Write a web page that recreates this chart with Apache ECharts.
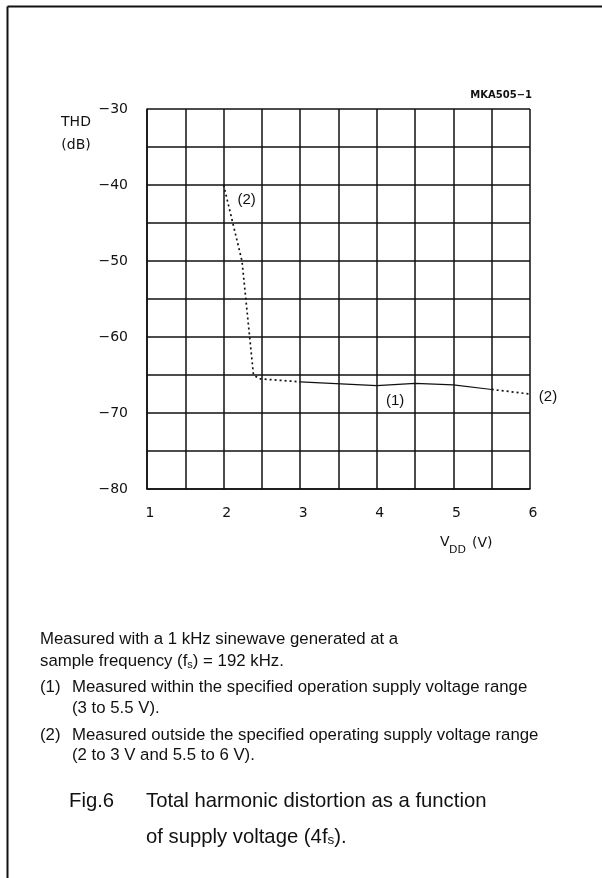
<!DOCTYPE html>
<html>
<head>
<meta charset="utf-8">
<script src="https://cdn.jsdelivr.net/npm/echarts@6/dist/echarts.min.js"></script>
<style>
  html, body { margin: 0; padding: 0; background: #fff; }
  #chart { width: 602px; height: 878px; }
</style>
</head>
<body>
<div id="chart"></div>
<script>
// Supply voltage (V) and THD (dB).
// Below 3 V: outside the specified range (dotted).
const vddLow = [2, 2.12, 2.24, 2.29, 2.34, 2.39, 2.47, 2.6, 3];
const thdLow = [-40, -45, -50, -55, -60, -65, -65.5, -65.6, -65.9];
// 3 V to 5.5 V: specified operating range (solid).
const vddMid = [3, 4, 4.5, 5, 5.5];
const thdMid = [-65.9, -66.4, -66.1, -66.3, -66.9];
// Above 5.5 V: outside the specified range (dotted).
const vddHigh = [5.5, 6];
const thdHigh = [-66.9, -67.5];

// Axis ticks
const xTickValues = [1, 2, 3, 4, 5, 6];
const yTickValues = [-30, -40, -50, -60, -70, -80];

// Curve annotations: text and anchor in data units
const curveNotes = [
  { text: '(2)', v: 2.30, db: -42.0 },
  { text: '(1)', v: 4.24, db: -68.4 },
  { text: '(2)', v: 6.235, db: -67.9 }
];

const INK = '#111';
const AXIS_FONT = 'DejaVu Sans';
const TEXT_FONT = 'Liberation Sans, Arial, sans-serif';

function pairs(xs, ys) { return xs.map((x, i) => [x, ys[i]]); }

const chart = echarts.init(document.getElementById('chart'), null, { renderer: 'canvas' });

const dotted = { color: INK, width: 1.7, type: [2, 3] };
const solid = { color: INK, width: 1.1, type: 'solid' };

chart.setOption({
  backgroundColor: '#fff',
  animation: false,
  grid: { left: 147, top: 109, width: 383, height: 380, containLabel: false },
  xAxis: {
    type: 'value', min: 1, max: 6, interval: 0.5,
    axisLine: { show: true, lineStyle: { color: INK, width: 1.5 } },
    axisTick: { show: false },
    splitLine: { show: true, lineStyle: { color: INK, width: 1.5 } },
    axisLabel: {
      margin: 17, fontFamily: AXIS_FONT, fontSize: 14, color: INK,
      padding: [0, 0, 0, 6],
      formatter: v => xTickValues.indexOf(v) >= 0 ? String(v) : ''
    }
  },
  yAxis: {
    type: 'value', min: -80, max: -30, interval: 5,
    axisLine: { show: true, lineStyle: { color: INK, width: 1.5 } },
    axisTick: { show: false },
    splitLine: { show: true, lineStyle: { color: INK, width: 1.5 } },
    axisLabel: {
      margin: 19, fontFamily: AXIS_FONT, fontSize: 14, color: INK,
      formatter: v => yTickValues.indexOf(v) >= 0 ? String(v).replace('-', '\u2212') : ''
    }
  },
  series: [
    { type: 'line', data: pairs(vddLow, thdLow), symbol: 'none', lineStyle: dotted, silent: true },
    { type: 'line', data: pairs(vddMid, thdMid), symbol: 'none', lineStyle: solid, silent: true },
    { type: 'line', data: pairs(vddHigh, thdHigh), symbol: 'none', lineStyle: dotted, silent: true }
  ]
});

// Text blocks around the diagram
const noteFont = 16.8;
const notes = { fontSize: noteFont, fontFamily: TEXT_FONT, fill: INK, verticalAlign: 'bottom', lineHeight: 20 };
const noteSub = { fontSize: 11, fontFamily: TEXT_FONT, fill: INK, verticalAlign: 'bottom', lineHeight: 14 };
const capFont = 20.3;
const cap = { fontSize: capFont, fontFamily: TEXT_FONT, fill: INK, verticalAlign: 'bottom', lineHeight: 24 };
const capSub = { fontSize: 13.5, fontFamily: TEXT_FONT, fill: INK, verticalAlign: 'bottom', lineHeight: 16 };

function txt(x, y, text, style) {
  return {
    type: 'text', x: x, y: y, silent: true,
    style: Object.assign({ text: text, fill: INK, align: 'left', verticalAlign: 'middle' }, style)
  };
}

const elements = [
  // frame
  { type: 'line', silent: true, shape: { x1: 7.5, y1: 6.5, x2: 602, y2: 6.5 }, style: { stroke: INK, lineWidth: 2 } },
  { type: 'line', silent: true, shape: { x1: 7.5, y1: 6.5, x2: 7.5, y2: 878 }, style: { stroke: INK, lineWidth: 2 } },
  // drawing code
  txt(532, 95, 'MKA505\u22121', { align: 'right', fontFamily: AXIS_FONT, fontSize: 10, fontWeight: 'bold' }),
  // y axis title
  txt(76, 122, 'THD', { align: 'center', fontFamily: AXIS_FONT, fontSize: 14 }),
  txt(76, 145, '(dB)', { align: 'center', fontFamily: AXIS_FONT, fontSize: 14 }),
  // x axis title
  txt(440, 542, 'V', { fontFamily: AXIS_FONT, fontSize: 14 }),
  txt(449, 550, 'DD', { fontFamily: AXIS_FONT, fontSize: 11 }),
  txt(472, 543, '(V)', { fontFamily: AXIS_FONT, fontSize: 14 }),
  // notes
  txt(40, 639.5, 'Measured with a 1 kHz sinewave generated at a', { fontFamily: TEXT_FONT, fontSize: noteFont }),
  {
    type: 'text', x: 40, y: 670, silent: true,
    style: {
      text: '{n|sample frequency (f}{s|s}{n|) = 192 kHz.}',
      align: 'left', verticalAlign: 'bottom',
      rich: { n: notes, s: noteSub }
    }
  },
  txt(40, 687.5, '(1)', { fontFamily: TEXT_FONT, fontSize: noteFont }),
  txt(72, 687.5, 'Measured within the specified operation supply voltage range', { fontFamily: TEXT_FONT, fontSize: noteFont }),
  txt(72, 708, '(3 to 5.5 V).', { fontFamily: TEXT_FONT, fontSize: noteFont }),
  txt(40, 735, '(2)', { fontFamily: TEXT_FONT, fontSize: noteFont }),
  txt(72, 735, 'Measured outside the specified operating supply voltage range', { fontFamily: TEXT_FONT, fontSize: noteFont }),
  txt(72, 755.5, '(2 to 3 V and 5.5 to 6 V).', { fontFamily: TEXT_FONT, fontSize: noteFont }),
  // caption
  txt(69, 801, 'Fig.6', { fontFamily: TEXT_FONT, fontSize: capFont }),
  txt(146, 801, 'Total harmonic distortion as a function', { fontFamily: TEXT_FONT, fontSize: capFont }),
  {
    type: 'text', x: 146, y: 847, silent: true,
    style: {
      text: '{n|of supply voltage (4f}{s|s}{n|).}',
      align: 'left', verticalAlign: 'bottom',
      rich: { n: cap, s: capSub }
    }
  }
];

// curve annotations, placed through the chart's own scales
curveNotes.forEach(n => {
  const p = chart.convertToPixel({ gridIndex: 0 }, [n.v, n.db]);
  elements.push(txt(p[0], p[1], n.text, { align: 'center', fontFamily: TEXT_FONT, fontSize: 15 }));
});

chart.setOption({ graphic: { elements: elements } });
</script>
</body>
</html>
